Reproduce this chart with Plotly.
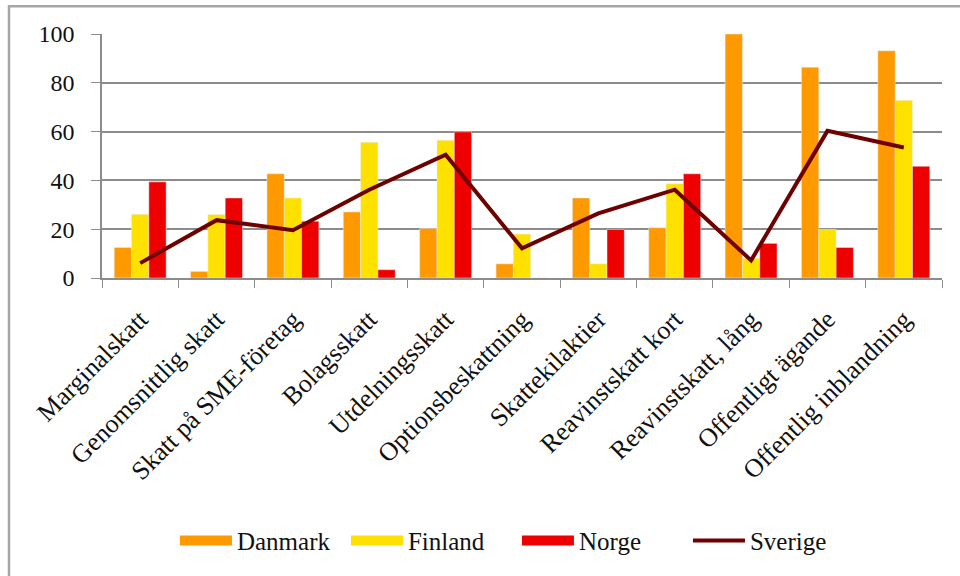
import plotly.graph_objects as go

categories = [
    "Marginalskatt", "Genomsnittlig skatt", "Skatt på SME-företag", "Bolagsskatt",
    "Utdelningsskatt", "Optionsbeskattning", "Skattekilaktier", "Reavinstskatt kort",
    "Reavinstskatt, lång", "Offentligt ägande", "Offentlig inblandning",
]
danmark = [12.5, 2.7, 42.7, 27.1, 20.3, 5.8, 32.8, 20.6, 100, 86.4, 93.1]
finland = [26.1, 26.0, 32.8, 55.6, 56.5, 18.0, 5.8, 38.6, 8.1, 19.9, 72.8]
norge = [39.4, 32.8, 23.3, 3.4, 59.9, 0, 19.9, 42.7, 14.2, 12.5, 45.8]
sverige = [6.1, 23.7, 19.6, 36.2, 50.5, 12.2, 26.5, 36.2, 7.2, 60.3, 53.5]

COLORS = {"Danmark": "#FF9900", "Finland": "#FFE100", "Norge": "#EE0000", "Sverige": "#6E0000"}
FONT = "Liberation Serif"

fig = go.Figure()
for name, vals in [("Danmark", danmark), ("Finland", finland), ("Norge", norge)]:
    fig.add_trace(go.Bar(x=categories, y=vals, name=name, marker_color=COLORS[name],
                         showlegend=False))
fig.add_trace(go.Scatter(x=categories, y=sverige, name="Sverige", mode="lines",
                         line=dict(color=COLORS["Sverige"], width=4), showlegend=False))

# legend entries: wide swatches like the original
for name in ["Danmark", "Finland", "Norge"]:
    fig.add_trace(go.Scatter(x=[None], y=[None], mode="lines", name=name,
                             line=dict(color=COLORS[name], width=13)))
fig.add_trace(go.Scatter(x=[None], y=[None], mode="lines", name="Sverige",
                         line=dict(color=COLORS["Sverige"], width=4)))

# outer frame (only left and top edges fall inside the picture)
fig.add_shape(type="rect", xref="paper", yref="paper",
              x0=-93 / 840, x1=900 / 840, y0=-320 / 246, y1=274 / 246,
              line=dict(color="#A6A6A6", width=2.5), layer="below")

fig.update_layout(
    width=960, height=576,
    margin=dict(l=102, r=18, t=34, b=296),
    barmode="group", bargap=0.32, bargroupgap=0,
    plot_bgcolor="white", paper_bgcolor="white",
    font=dict(family=FONT, size=24, color="#111111"),
    xaxis=dict(
        tickangle=-45, tickfont=dict(family=FONT, size=26), showgrid=False,
        showline=True, linecolor="#8C8C8C", linewidth=1.5,
        ticks="outside", tickson="boundaries", ticklen=8, tickcolor="#8C8C8C",
        ticklabelstandoff=14, range=[-0.5, 10.5],
    ),
    yaxis=dict(
        range=[0, 100], dtick=20, showgrid=True, gridcolor="#8C8C8C", gridwidth=1.5,
        showline=True, linecolor="#8C8C8C", linewidth=1.5,
        ticks="outside", ticklen=9, tickcolor="#8C8C8C", zeroline=False,
        tickfont=dict(family=FONT, size=24), ticklabelstandoff=12,
    ),
    legend=dict(orientation="h", x=0.494, xanchor="center", y=-1.077, yanchor="middle",
                font=dict(family=FONT, size=25, color="#111111"), itemwidth=52,
                entrywidth=104, bgcolor="rgba(0,0,0,0)"),
)

# page body has a default 8px margin; drop it so the figure sits at the window corner
fig.write_html("out.html", config={"displayModeBar": False},
               post_script="document.body.style.margin='0';")
